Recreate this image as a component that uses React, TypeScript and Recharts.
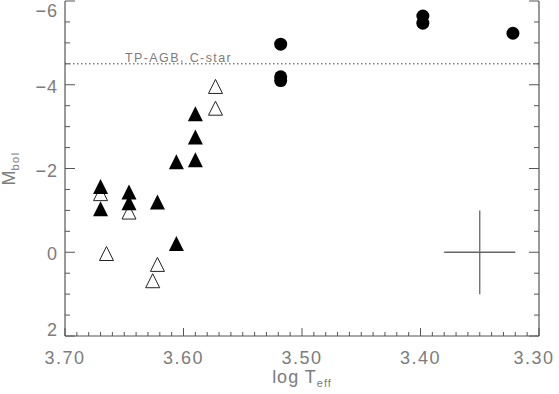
import React from 'react';
import { ScatterChart, Scatter, XAxis, YAxis, ReferenceLine } from 'recharts';

// ---- data ----
const xMajorTicks = [3.7, 3.6, 3.5, 3.4, 3.3];
const yMajorTicks = [-6, -4, -2, 0, 2];
const xDomain = [3.3, 3.7];
const yDomain = [-6, 2];
const xMinorStep = 0.01;
const yMinorStep = 0.5;

const carbonStarLimit = -4.5;
const carbonStarLabel = 'TP-AGB, C-star';

const circleLogT = [3.518, 3.518, 3.518, 3.398, 3.398, 3.322];
const circleMbol = [-4.97, -4.19, -4.1, -5.64, -5.47, -5.23];

const filledLogT = [3.67, 3.67, 3.646, 3.646, 3.622, 3.606, 3.606, 3.59, 3.59, 3.59];
const filledMbol = [-1.57, -1.04, -1.44, -1.18, -1.2, -2.16, -0.21, -3.31, -2.75, -2.21];

const openLogT = [3.67, 3.646, 3.665, 3.622, 3.626, 3.573, 3.573];
const openMbol = [-1.4, -0.96, 0.03, 0.29, 0.68, -3.96, -3.44];

const errorLogT = 3.35;
const errorMbol = 0;
const errorDLogT = 0.03;
const errorDMbol = 1.0;

// ---- helpers ----
const r2 = (v: number) => Math.round(v * 1000) / 1000;
const makeTicks = (lo: number, hi: number, step: number) => {
  const n = Math.round((hi - lo) / step);
  const out: number[] = [];
  for (let i = 0; i <= n; i++) out.push(r2(lo + i * step));
  return out;
};
const xTicks = makeTicks(xDomain[0], xDomain[1], xMinorStep);
const yTicks = makeTicks(yDomain[0], yDomain[1], yMinorStep);
const isXMajor = (v: number) => xMajorTicks.some((t) => Math.abs(t - v) < 1e-6);
const isYMajor = (v: number) => yMajorTicks.some((t) => Math.abs(t - v) < 1e-6);

const zip = (xs: number[], ys: number[]) => xs.map((x, i) => ({ logT: x, mbol: ys[i] }));
const circles = zip(circleLogT, circleMbol);
const filled = zip(filledLogT, filledMbol);
const open = zip(openLogT, openMbol);

const AXIS = '#555';
const TEXT = '#7c7c7c';
const FONT = '"Liberation Sans", Arial, sans-serif';

const BottomTick = (p: any) => {
  const { x, y, payload } = p;
  const v = payload.value;
  const major = isXMajor(v);
  const lx = Math.max(Math.min(x, 534), 22);
  return (
    <g>
      <line x1={x} x2={x} y1={y} y2={y - (major ? 8 : 4)} stroke={AXIS} strokeWidth={1} />
      {major && (
        <text x={lx} y={y + 28} textAnchor="middle" fontSize={18} fill={TEXT} fontFamily={FONT} letterSpacing={1.5}>
          {v.toFixed(2)}
        </text>
      )}
    </g>
  );
};

const TopTick = (p: any) => {
  const { x, y, payload } = p;
  const major = isXMajor(payload.value);
  return <line x1={x} x2={x} y1={y} y2={y + (major ? 8 : 4)} stroke={AXIS} strokeWidth={1} />;
};

const LeftTick = (p: any) => {
  const { x, y, payload } = p;
  const v = payload.value;
  const major = isYMajor(v);
  const by = Math.max(Math.min(y + 8, 336), 16.5);
  const label = v < 0 ? '\u2212' + Math.abs(v) : String(v);
  return (
    <g>
      <line x1={x} x2={x + (major ? 10 : 5)} y1={y} y2={y} stroke={AXIS} strokeWidth={1} />
      {major && (
        <text x={x - 7} y={by} textAnchor="end" fontSize={18} fill={TEXT} fontFamily={FONT} letterSpacing={1}>
          {label}
        </text>
      )}
    </g>
  );
};

const RightTick = (p: any) => {
  const { x, y, payload } = p;
  const major = isYMajor(payload.value);
  return <line x1={x} x2={x - (major ? 10 : 5)} y1={y} y2={y} stroke={AXIS} strokeWidth={1} />;
};

const XTitle = (p: any) => {
  const vb = p.viewBox || { x: 65, y: 336, width: 474, height: 58 };
  const cx = vb.x + vb.width / 2;
  return (
    <text x={cx} y={vb.y + 47} textAnchor="middle" fontSize={18} fill={TEXT} fontFamily={FONT} letterSpacing={1}>
      log T
      <tspan fontSize={11} dy={4}>eff</tspan>
    </text>
  );
};

const YTitle = (p: any) => {
  const vb = p.viewBox || { x: 0, y: 1, width: 65, height: 335 };
  const cx = 15;
  const cy = vb.y + vb.height / 2;
  return (
    <text
      x={cx}
      y={cy}
      transform={`rotate(-90 ${cx} ${cy})`}
      textAnchor="middle"
      fontSize={18}
      fill={TEXT}
      fontFamily={FONT}
    >
      M
      <tspan fontSize={11} dy={3.5} letterSpacing={1.5}>bol</tspan>
    </text>
  );
};

const LimitLabel = (p: any) => {
  const vb = p.viewBox || { x: 65, y: 63 };
  return (
    <text x={vb.x + 60} y={vb.y - 2} fontSize={12.5} fill={TEXT} fontFamily={FONT} letterSpacing={1.4}>
      {carbonStarLabel}
    </text>
  );
};

const FilledTriangle = (p: any) => {
  const { cx, cy } = p;
  return <polygon points={`${cx},${cy - 7.5} ${cx - 7.5},${cy + 7.5} ${cx + 7.5},${cy + 7.5}`} fill="#000" />;
};

const OpenTriangle = (p: any) => {
  const { cx, cy } = p;
  return (
    <polygon
      points={`${cx},${cy - 7} ${cx - 7},${cy + 7} ${cx + 7},${cy + 7}`}
      fill="none"
      stroke="#222"
      strokeWidth={1}
    />
  );
};

const Dot = (p: any) => <circle cx={p.cx} cy={p.cy} r={6.5} fill="#000" />;

export default function App() {
  return (
    <div style={{ position: 'absolute', left: 0, top: 0, width: 559, height: 394, background: '#fff' }}>
      <ScatterChart width={559} height={394} margin={{ top: 1, right: 0, bottom: 0, left: 0 }}>
        <XAxis
          xAxisId={0}
          type="number"
          dataKey="logT"
          domain={xDomain}
          reversed
          allowDataOverflow
          ticks={xTicks}
          interval={0}
          tickSize={0}
          tickMargin={0}
          tickLine={false}
          tick={<BottomTick />}
          axisLine={{ stroke: AXIS, strokeWidth: 1.2 }}
          height={58}
          label={<XTitle />}
        />
        <XAxis
          xAxisId="top"
          orientation="top"
          type="number"
          dataKey="logT"
          domain={xDomain}
          reversed
          allowDataOverflow
          ticks={xTicks}
          interval={0}
          tickSize={0}
          tickMargin={0}
          tickLine={false}
          tick={<TopTick />}
          axisLine={{ stroke: AXIS, strokeWidth: 1.2 }}
          height={0}
        />
        <YAxis
          yAxisId={0}
          type="number"
          dataKey="mbol"
          domain={yDomain}
          reversed
          allowDataOverflow
          ticks={yTicks}
          interval={0}
          tickSize={0}
          tickMargin={0}
          tickLine={false}
          tick={<LeftTick />}
          axisLine={{ stroke: AXIS, strokeWidth: 1.2 }}
          width={65}
          label={<YTitle />}
        />
        <YAxis
          yAxisId="right"
          orientation="right"
          type="number"
          dataKey="mbol"
          domain={yDomain}
          reversed
          allowDataOverflow
          ticks={yTicks}
          interval={0}
          tickSize={0}
          tickMargin={0}
          tickLine={false}
          tick={<RightTick />}
          axisLine={{ stroke: AXIS, strokeWidth: 1.2 }}
          width={20}
        />
        <ReferenceLine
          y={carbonStarLimit}
          stroke="#444"
          strokeWidth={1}
          strokeDasharray="1.5 2.5"
          label={<LimitLabel />}
        />
        <ReferenceLine
          segment={[
            { x: errorLogT + errorDLogT, y: errorMbol },
            { x: errorLogT - errorDLogT, y: errorMbol },
          ]}
          stroke="#666"
          strokeWidth={1.3}
        />
        <ReferenceLine
          segment={[
            { x: errorLogT, y: errorMbol - errorDMbol },
            { x: errorLogT, y: errorMbol + errorDMbol },
          ]}
          stroke="#666"
          strokeWidth={1.3}
        />
        <Scatter data={open} shape={<OpenTriangle />} isAnimationActive={false} />
        <Scatter data={filled} shape={<FilledTriangle />} isAnimationActive={false} />
        <Scatter data={circles} shape={<Dot />} isAnimationActive={false} />
      </ScatterChart>
    </div>
  );
}
